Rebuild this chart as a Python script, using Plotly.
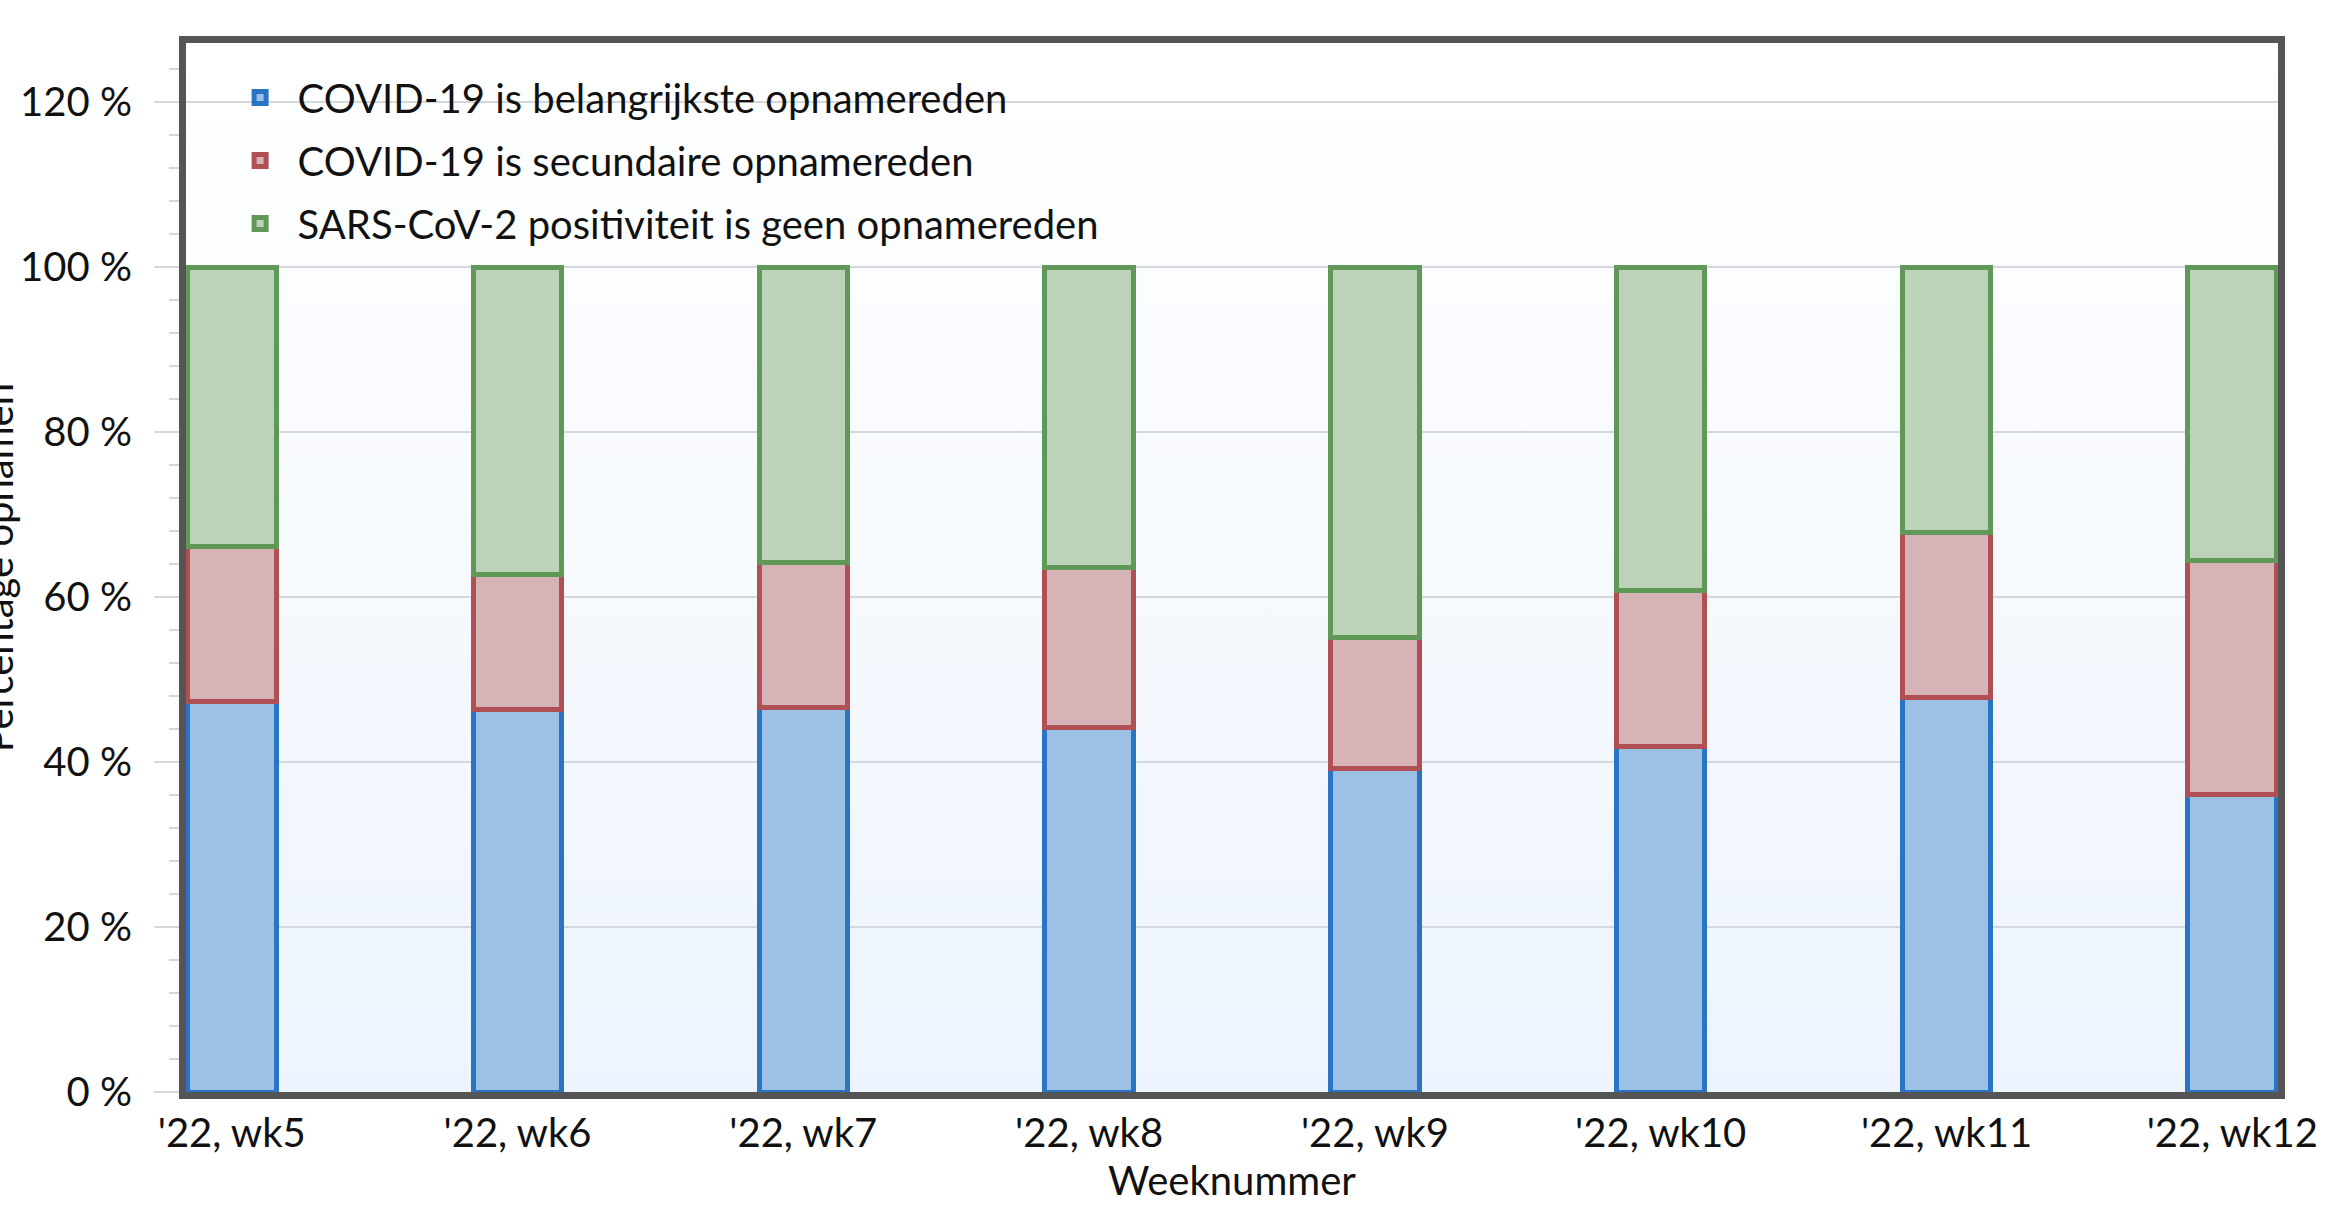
import base64
import plotly.graph_objects as go

# ── Data (percentages per week) ─────────────────────────────────────────────
weeks = ["'22, wk5", "'22, wk6", "'22, wk7", "'22, wk8",
         "'22, wk9", "'22, wk10", "'22, wk11", "'22, wk12"]

hoofdreden = [47.4, 46.4, 46.6, 44.2, 39.2, 41.9, 47.8, 36.1]
secundair = [18.7, 16.3, 17.6, 19.4, 15.9, 18.9, 20.1, 28.3]
geen_reden = [33.9, 37.3, 35.8, 36.4, 44.9, 39.2, 32.1, 35.6]

series_names = [
    "COVID-19 is belangrijkste opnamereden",
    "COVID-19 is secundaire opnamereden",
    "SARS-CoV-2 positiviteit is geen opnamereden",
]

y_ticks = [0, 20, 40, 60, 80, 100, 120]
y_ticktext = [f"{v} %" for v in y_ticks]

FILLS = ["#9dc0e5", "#d6b3b7", "#bcd3ba"]
EDGES = ["#2a74c5", "#b04f54", "#5f9857"]
FONT = "Lato"
FS = 40

# soft white-to-blue gradient behind the plot area
_svg = (
    '<svg xmlns="http://www.w3.org/2000/svg" width="10" height="100" preserveAspectRatio="none">'
    '<defs><linearGradient id="g" x1="0" y1="0" x2="0" y2="1">'
    '<stop offset="0" stop-color="#ffffff"/><stop offset="1" stop-color="#edf4fd"/>'
    '</linearGradient></defs><rect width="10" height="100" fill="url(#g)"/></svg>'
)
BG_URI = "data:image/svg+xml;base64," + base64.b64encode(_svg.encode()).decode()

# ── Figure ──────────────────────────────────────────────────────────────────
fig = go.Figure()
for i, (name, vals, fill, edge) in enumerate(
        zip(series_names, [hoofdreden, secundair, geen_reden], FILLS, EDGES)):
    fig.add_trace(go.Bar(
        x=weeks, y=vals, name=name, width=0.31, legendgroup=f"g{i}",
        marker=dict(color=fill, line=dict(color=edge, width=5)),
        hovertemplate="%{x}<br>%{y:.1f} %<extra>" + name + "</extra>",
    ))

fig.update_layout(
    barmode="stack",
    width=2342, height=1218,
    margin=dict(l=186, r=64, t=43, b=126),
    paper_bgcolor="white",
    plot_bgcolor="#f5f9fe",
    font=dict(family=FONT, size=FS, color="#111111"),
    showlegend=True,
    legend=dict(
        x=0.0175, y=0.979, xanchor="left", yanchor="top",
        traceorder="grouped", bgcolor="rgba(0,0,0,0)",
        font=dict(size=FS), itemwidth=65, tracegroupgap=8,
    ),
    images=[dict(
        source=BG_URI, xref="paper", yref="paper", x=0, y=1,
        sizex=1, sizey=1, xanchor="left", yanchor="top",
        sizing="stretch", layer="below",
    )],
)

fig.update_xaxes(
    range=[-0.16, 7.16],
    showline=True, linewidth=7, linecolor="#555555", mirror=True,
    showgrid=False, ticks="", tickfont=dict(size=FS),
    title=dict(text="Weeknummer", font=dict(size=FS), standoff=10),
)

fig.update_yaxes(
    range=[0, 127.2],
    tickmode="array", tickvals=y_ticks, ticktext=y_ticktext,
    showline=True, linewidth=7, linecolor="#555555", mirror=True,
    showgrid=True, gridcolor="#d4d7db", gridwidth=2,
    ticks="outside", ticklen=25, tickwidth=2, tickcolor="#d4d7db",
    minor=dict(dtick=4, ticks="outside", ticklen=10, tickwidth=2,
               tickcolor="#d4d7db", showgrid=False),
    ticklabelstandoff=14, tickfont=dict(size=FS), zeroline=False,
)

# y-axis title sits partly off the left edge of the canvas
fig.add_annotation(
    text="Percentage opnamen", textangle=-90,
    xref="paper", yref="paper", x=-0.0775, y=0.5,
    xanchor="right", yanchor="middle", showarrow=False,
    font=dict(size=FS, family=FONT),
)

# drop the default page margin so the figure sits flush in the window
fig.write_html("out.html", config={"displayModeBar": False},
               post_script="document.body.style.margin='0';")
